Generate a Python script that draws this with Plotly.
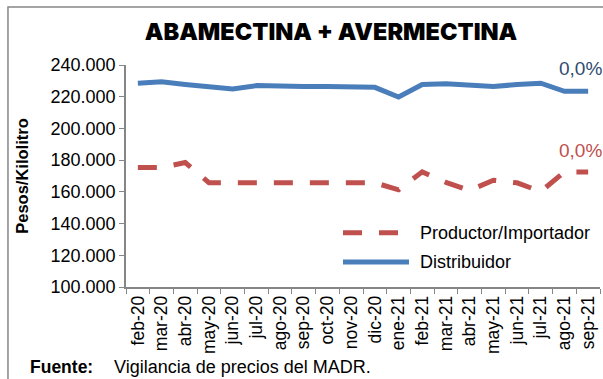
import plotly.graph_objects as go

meses = ["feb-20", "mar-20", "abr-20", "may-20", "jun-20", "jul-20", "ago-20",
         "sep-20", "oct-20", "nov-20", "dic-20", "ene-21", "feb-21", "mar-21",
         "abr-21", "may-21", "jun-21", "jul-21", "ago-21", "sep-21"]

productor = [175300, 175300, 178500, 165750, 165750, 165750, 165750, 165750,
             165750, 165750, 165750, 161300, 172600, 166000, 160900, 167300,
             165700, 160200, 172600, 172600]

distribuidor = [228500, 229400, 227700, 226400, 224900, 227000, 226400, 226400,
                226400, 226500, 225900, 219800, 227700, 228100, 227000, 226400,
                227700, 228500, 223400, 223400]

var_productor = "0,0%"
var_distribuidor = "0,0%"

AZUL = "#4A7EBB"
ROJO = "#C0504D"
GRIS = "#868686"
FUENTE = "Liberation Sans, Arial, sans-serif"
DASH = "19px,17px"

fig = go.Figure()
fig.add_trace(go.Scatter(
    x=meses, y=productor, name="Productor/Importador", mode="lines",
    line=dict(color=ROJO, width=5, dash=DASH),
))
fig.add_trace(go.Scatter(
    x=meses, y=distribuidor, name="Distribuidor", mode="lines",
    line=dict(color=AZUL, width=5),
))

# variation labels at the end of each series
fig.add_annotation(x=0.91, xref="paper", xanchor="left", y=0.984, yref="paper",
                   yanchor="middle", text=var_distribuidor, showarrow=False,
                   font=dict(family=FUENTE, size=19, color="#2F4B70"))
fig.add_annotation(x=0.91, xref="paper", xanchor="left", y=0.615, yref="paper",
                   yanchor="middle", text=var_productor, showarrow=False,
                   font=dict(family=FUENTE, size=19, color=ROJO))

# legend drawn inside the plot area with long line samples
leyenda = [("Productor/Importador", ROJO, DASH, 0.2446),
           ("Distribuidor", AZUL, "solid", 0.1126)]
for nombre, color, estilo, yy in leyenda:
    fig.add_shape(type="line", xref="paper", yref="paper",
                  x0=0.4578, x1=0.5970, y0=yy, y1=yy,
                  line=dict(color=color, width=5, dash=estilo))
    fig.add_annotation(x=0.616, xref="paper", xanchor="left", y=yy, yref="paper",
                       yanchor="middle", text=nombre, showarrow=False,
                       font=dict(family=FUENTE, size=18, color="black"))

# source note
fig.add_annotation(x=-0.2068, xref="paper", xanchor="left", y=-0.3604, yref="paper",
                   yanchor="middle", showarrow=False, text="<b>Fuente:</b>",
                   font=dict(family=FUENTE, size=17.5, color="black"))
fig.add_annotation(x=-0.0295, xref="paper", xanchor="left", y=-0.3604, yref="paper",
                   yanchor="middle", showarrow=False,
                   text="Vigilancia de precios del MADR.",
                   font=dict(family=FUENTE, size=18, color="black"))

# outer frame
fig.add_shape(type="rect", xref="paper", yref="paper",
              x0=-0.249, x1=1.2, y0=-0.6, y1=1.261,
              line=dict(color=GRIS, width=1.5), layer="below")

fig.update_layout(
    width=603, height=379,
    margin=dict(l=126, r=3, t=65, b=92),
    paper_bgcolor="white", plot_bgcolor="white",
    separators=",.",
    showlegend=False,
    title=dict(text="ABAMECTINA + AVERMECTINA", x=0.549, xanchor="center",
               y=0.9156, yanchor="middle",
               font=dict(family="Inter", size=23.5, color="black", weight=900)),
    xaxis=dict(
        type="category", tickangle=-90, tickson="boundaries",
        ticks="outside", ticklen=5, tickcolor=GRIS,
        showline=True, linecolor=GRIS, linewidth=1.5,
        showgrid=False, range=[-0.5, 19.5],
        tickfont=dict(family=FUENTE, size=17.5, color="black"),
    ),
    yaxis=dict(
        range=[100000, 240000], dtick=20000, tickformat=",d",
        ticks="outside", ticklen=5, tickcolor=GRIS,
        showline=True, linecolor=GRIS, linewidth=1.5,
        showgrid=False, zeroline=False,
        tickfont=dict(family=FUENTE, size=18, color="black"),
        title=dict(text="<b>Pesos/Kilolitro</b>", standoff=18,
                   font=dict(family=FUENTE, size=16.5, color="black")),
    ),
)

fig.write_html("out.html")
